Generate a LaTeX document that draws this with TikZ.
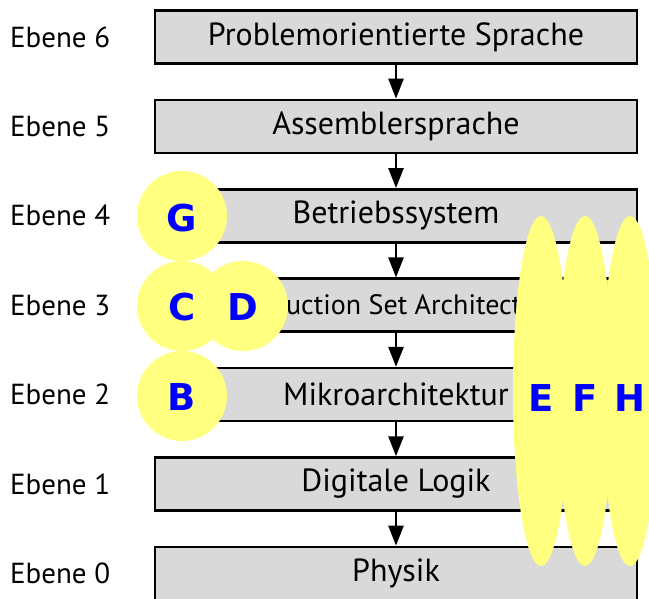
\documentclass[tikz,border=0pt]{standalone}
\usepackage{fontspec}
\setmainfont{PT Sans}
\newfontfamily\letterfont{DejaVu Sans}
\usetikzlibrary{arrows.meta, positioning}
\definecolor{levelgray}{RGB}{217,217,217}
\definecolor{markyellow}{RGB}{255,255,128}
\definecolor{markblue}{RGB}{0,0,255}

\begin{document}
\begin{tikzpicture}[x=1pt, y=-1pt,
    level/.style={draw=black, line width=2.5pt, fill=levelgray, minimum width=482pt,
      minimum height=53pt, inner sep=0pt, font=\fontsize{#1}{36}\selectfont},
    level/.default=32,
    ebene/.style={anchor=west, inner sep=0pt, font=\fontsize{29}{33}\selectfont},
    hilite/.style={fill=markyellow, circle, minimum size=90pt, inner sep=0pt},
    letter/.style={text=markblue, font=\letterfont\bfseries\fontsize{37}{41}\selectfont},
    flow/.style={line width=2.5pt, -{Triangle[length=20pt, width=15pt]}}]
  \useasboundingbox (0,0) rectangle (649,599);

  % levels, top to bottom
  \foreach \i/\txt/\fs in {6/Problemorientierte Sprache/32, 5/Assemblersprache/32,
      4/Betriebssystem/32, 3/Instruction Set Architecture/28, 2/Mikroarchitektur/32,
      1/Digitale Logik/32, 0/Physik/32} {
    \node[level=\fs] (lvl\i) at (396, {37+89.4*(6-\i)}) {\txt};
    \node[ebene] (eb\i) at (10, {37+89.4*(6-\i)}) {Ebene \i};
  }
  \foreach \i [evaluate=\i as \j using int(\i-1)] in {6,...,1}
    \draw[flow] (lvl\i.south) -- (lvl\j.north);

  % highlighted letters
  \node[hilite] (mG) at (182,216) {};
  \node[hilite] (mC) at (182,306) {};
  \node[hilite] (mD) at (243,306) {};
  \node[hilite] (mB) at (182,396) {};
  \foreach \x/\n in {541/E, 585/F, 630/H}
    \fill[markyellow] (\x,391) ellipse (28 and 175);
  \foreach \n/\x/\y in {G/182/218, C/182/307, D/243/307, B/182/397,
      E/541/398, F/585/398, H/630/398}
    \node[letter] (lt\n) at (\x,\y) {\n};
\end{tikzpicture}
\end{document}
